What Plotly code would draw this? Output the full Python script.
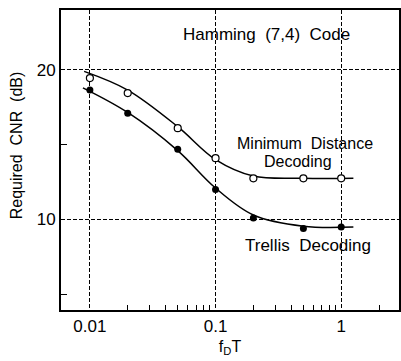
import plotly.graph_objects as go

# Data points
fdt = [0.01, 0.02, 0.05, 0.1, 0.2, 0.5, 1.0]
min_dist = [19.45, 18.45, 16.1, 14.1, 12.75, 12.75, 12.75]
trellis = [18.65, 17.1, 14.7, 12.0, 10.1, 9.4, 9.5]

# Fitted curves (drawn smooth through the data)
curve_x = [0.009, 0.02, 0.05, 0.1, 0.2, 0.5, 1.25]
min_dist_curve = [19.9, 18.65, 16.2, 14.0, 12.9, 12.75, 12.75]
trellis_curve_x = [0.0088, 0.02, 0.05, 0.1, 0.2, 0.5, 1.25]
trellis_curve = [18.8, 17.15, 14.6, 12.1, 10.3, 9.55, 9.5]

x_tickvals = [0.01, 0.1, 1]
x_ticktext = ["0.01", "0.1", "1"]
x_minor = [0.02, 0.03, 0.04, 0.05, 0.06, 0.07, 0.08, 0.09,
           0.2, 0.3, 0.4, 0.5, 0.6, 0.7, 0.8, 0.9, 2]
y_tickvals = [10, 20]
y_ticktext = ["10", "20"]
y_minor = [5, 15]

fig = go.Figure()
fig.add_trace(go.Scatter(x=curve_x, y=min_dist_curve, mode="lines",
                         line=dict(color="black", width=1.5, shape="spline"),
                         showlegend=False, hoverinfo="skip"))
fig.add_trace(go.Scatter(x=trellis_curve_x, y=trellis_curve, mode="lines",
                         line=dict(color="black", width=1.5, shape="spline"),
                         showlegend=False, hoverinfo="skip"))
fig.add_trace(go.Scatter(x=fdt, y=min_dist, mode="markers",
                         marker=dict(symbol="circle", size=7, color="white",
                                     line=dict(color="black", width=1.2)),
                         showlegend=False))
fig.add_trace(go.Scatter(x=fdt, y=trellis, mode="markers",
                         marker=dict(symbol="circle", size=7, color="black"),
                         showlegend=False))

font_main = "Liberation Sans, Arial, sans-serif"

plot_w = 401 - 61
plot_h = 361 - 10 - 51

fig.update_layout(
    width=401, height=361,
    margin=dict(l=61, r=0, t=10, b=51),
    paper_bgcolor="white", plot_bgcolor="white",
    font=dict(family=font_main, color="black"),
    xaxis=dict(
        type="log", range=[-2.23, 0.46],
        tickmode="array", tickvals=x_tickvals, ticktext=x_ticktext,
        ticks="", showgrid=True, gridcolor="black", griddash="4px,2px", gridwidth=1,
        minor=dict(tickmode="array", tickvals=x_minor, ticks="inside",
                   ticklen=5, tickcolor="black", tickwidth=1, showgrid=False),
        showline=True, linecolor="black", linewidth=2, mirror=True,
        tickfont=dict(size=17, color="black"),
        title=dict(text="f<sub>D</sub>T", font=dict(size=16), standoff=5),
        zeroline=False,
    ),
    yaxis=dict(
        range=[3.95, 24.0],
        tickmode="array", tickvals=y_tickvals, ticktext=y_ticktext,
        ticks="", showgrid=True, gridcolor="black", griddash="4px,2px", gridwidth=1,
        minor=dict(tickmode="array", tickvals=y_minor, ticks="inside",
                   ticklen=6, tickcolor="black", tickwidth=1, showgrid=False),
        showline=True, linecolor="black", linewidth=2, mirror=True,
        tickfont=dict(size=17, color="black"),
        zeroline=False,
    ),
    annotations=[
        dict(x=(16 - 61) / plot_w, y=(310 - 145) / plot_h, xref="paper", yref="paper",
             xanchor="center", yanchor="middle", text="Required  CNR  (dB)",
             textangle=-90, showarrow=False, font=dict(size=16, color="black")),
        dict(x=-0.595, y=22.34, xref="x", yref="y", text="Hamming  (7,4)  Code",
             showarrow=False, font=dict(size=17, color="black")),
        dict(x=-0.286, y=15.1, xref="x", yref="y", text="Minimum  Distance",
             showarrow=False, font=dict(size=16, color="black")),
        dict(x=-0.341, y=13.85, xref="x", yref="y", text="Decoding",
             showarrow=False, font=dict(size=16, color="black")),
        dict(x=-0.262, y=8.26, xref="x", yref="y", text="Trellis  Decoding",
             showarrow=False, font=dict(size=17, color="black")),
    ],
)

fig.write_html("out.html")
